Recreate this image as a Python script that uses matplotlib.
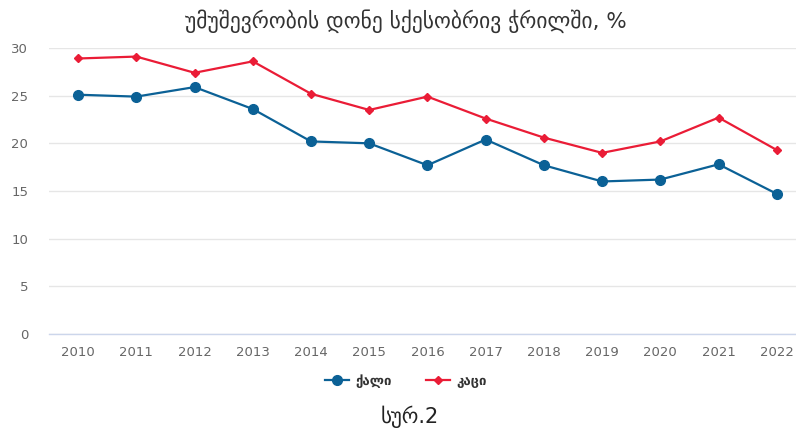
import matplotlib.pyplot as plt
import numpy as np

plt.rcParams['font.family'] = ['DejaVu Sans']

years = [2010, 2011, 2012, 2013, 2014, 2015, 2016, 2017, 2018, 2019, 2020, 2021, 2022]
women = [25.1, 24.9, 25.9, 23.6, 20.2, 20.0, 17.7, 20.4, 17.7, 16.0, 16.2, 17.8, 14.7]
men = [28.9, 29.1, 27.4, 28.6, 25.2, 23.5, 24.9, 22.6, 20.6, 19.0, 20.2, 22.7, 19.3]
yticks = [0, 5, 10, 15, 20, 25, 30]

BLUE = '#0b6196'
RED = '#ea1c36'

fig = plt.figure(figsize=(7.96, 4.30), dpi=100)
ax = fig.add_axes([49 / 796, 96 / 430, 1 - 49 / 796, 286 / 430])

x = np.arange(len(years))
ax.plot(x, women, '-o', color=BLUE, lw=1.6, ms=7, label='ქალი', zorder=3)
ax.plot(x, men, '-D', color=RED, lw=1.6, ms=4.5, label='კაცი', zorder=3)

ax.set_xlim(-0.5, len(years) - 1 + 0.33)
ax.set_ylim(0, 30)
ax.set_yticks(yticks)
ax.set_xticks(x)
ax.set_xticklabels(years)
ax.tick_params(length=0, labelsize=9.5, colors='#666666')
ax.tick_params(axis='x', pad=9)
ax.tick_params(axis='y', pad=15)

ax.grid(axis='y', color='#e6e6e6', lw=1)
ax.set_axisbelow(True)
for s in ['top', 'right', 'left']:
    ax.spines[s].set_visible(False)
ax.spines['bottom'].set_color('#ccd6eb')
ax.spines['bottom'].set_linewidth(1)

fig.text(0.51, 1 - 21 / 430, 'უმუშევრობის დონე სქესობრივ ჭრილში, %',
         ha='center', va='center', fontsize=15.5, color='#333333')

fig.legend(loc='center', bbox_to_anchor=(0.51, 1 - 381 / 430), ncol=2, frameon=False,
           prop={'size': 9.5, 'weight': 'bold'}, columnspacing=2.6, handlelength=1.8,
           handletextpad=0.5, labelcolor='#333333')

fig.text(0.515, 1 - 417 / 430, 'სურ.2', ha='center', va='center', fontsize=15, color='#222222')

fig.savefig('out.png', dpi=100)
